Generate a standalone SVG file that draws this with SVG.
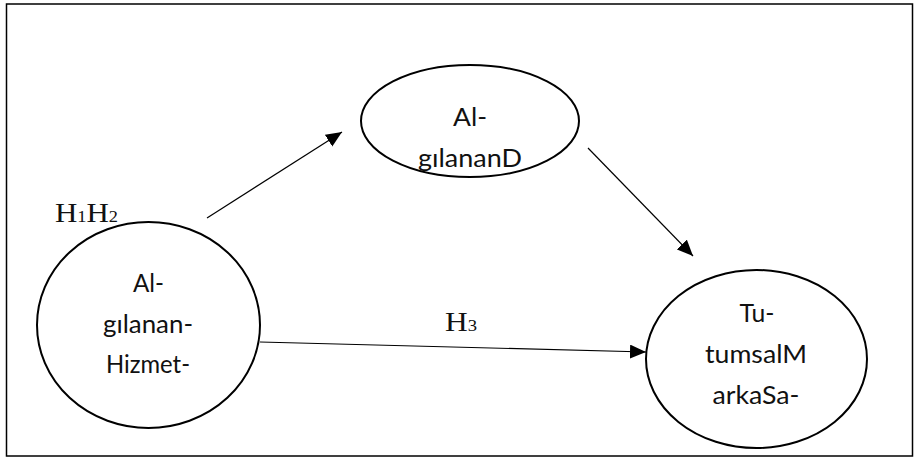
<svg xmlns="http://www.w3.org/2000/svg" width="914" height="458" viewBox="0 0 914 458">
  <style>
    .frame { fill: #fff; stroke: #000; stroke-width: 1.5; }
    .node ellipse { fill: #fff; stroke: #000; stroke-width: 2; }
    .node text { font-family: Lato, "Open Sans", "Liberation Sans", sans-serif; font-size: 25px; fill: #111; text-anchor: middle; }
    .edge { stroke: #000; stroke-width: 1.2; fill: none; marker-end: url(#arrow); }
    .hyp { font-family: "Liberation Serif", "DejaVu Serif", serif; font-size: 27px; fill: #111; }
    .sub { font-size: 16px; }
  </style>
  <defs>
    <marker id="arrow" markerUnits="userSpaceOnUse" markerWidth="17" markerHeight="15" refX="16" refY="7" orient="auto">
      <path d="M0,0 L16,7 L0,14 Z" fill="#000"/>
    </marker>
  </defs>

  <rect class="frame" x="6.5" y="4" width="906" height="452"/>

  <g id="connectors">
    <line class="edge" x1="207" y1="218" x2="342" y2="132"/>
    <line class="edge" x1="588" y1="148" x2="693" y2="256"/>
    <line class="edge" x1="260" y1="342" x2="646" y2="352"/>
  </g>

  <g id="labels">
    <text class="hyp" x="55" y="222" textLength="63" lengthAdjust="spacingAndGlyphs">H<tspan class="sub">1</tspan>H<tspan class="sub">2</tspan></text>
    <text class="hyp" x="445" y="331" textLength="32" lengthAdjust="spacingAndGlyphs">H<tspan class="sub">3</tspan></text>
  </g>

  <g id="node-hizmet" class="node">
    <ellipse cx="148.5" cy="325" rx="111.5" ry="103"/>
    <text x="148.5" y="292" textLength="31" lengthAdjust="spacingAndGlyphs">Al-</text>
    <text x="148" y="333" textLength="90" lengthAdjust="spacingAndGlyphs">gılanan-</text>
    <text x="148" y="373" textLength="84" lengthAdjust="spacingAndGlyphs">Hizmet-</text>
  </g>

  <g id="node-deger" class="node">
    <ellipse cx="470" cy="121" rx="109" ry="56"/>
    <text x="470" y="126" textLength="34" lengthAdjust="spacingAndGlyphs">Al-</text>
    <text x="470" y="167" textLength="104" lengthAdjust="spacingAndGlyphs">gılananD</text>
  </g>

  <g id="node-sadakat" class="node">
    <ellipse cx="756.5" cy="359" rx="110.5" ry="89"/>
    <text x="757" y="322" textLength="35" lengthAdjust="spacingAndGlyphs">Tu-</text>
    <text x="756" y="363" textLength="102" lengthAdjust="spacingAndGlyphs">tumsalM</text>
    <text x="756" y="404" textLength="87" lengthAdjust="spacingAndGlyphs">arkaSa-</text>
  </g>
</svg>
